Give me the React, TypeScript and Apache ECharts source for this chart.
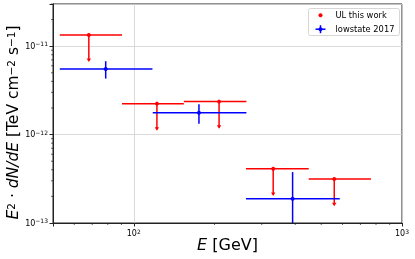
import React, { useEffect, useRef } from "react";
import * as echarts from "echarts";

// Upper limits (this work)
const ulNames = "UL this work";
const ulE = [68, 122, 208, 331, 559];
const ulELow = [53, 90.4, 153.7, 262, 449];
const ulEHigh = [90.4, 153.7, 263, 449, 766];
const ulFlux = [1.34e-11, 2.24e-12, 2.36e-12, 4.11e-13, 3.14e-13];
const ulArrowEnd = [6.7e-12, 1.12e-12, 1.18e-12, 2.05e-13, 1.57e-13];

// lowstate 2017 points
const lsName = "lowstate 2017";
const lsE = [78.6, 175, 391];
const lsELow = [53, 117.7, 262];
const lsEHigh = [117.4, 263, 586];
const lsFlux = [5.53e-12, 1.77e-12, 1.88e-13];
const lsFluxLow = [4.3e-12, 1.33e-12, 1e-15];
const lsFluxHigh = [6.76e-12, 2.2e-12, 3.77e-13];

// axes
const X_MIN = 50;
const X_MAX = 1000;
const Y_MIN = 1e-13;
const Y_MAX = 3e-11;
const xMinorTicks = [60, 70, 80, 90, 200, 300, 400, 500, 600, 700, 800, 900];
const yMinorTicks = [
  2e-13, 3e-13, 4e-13, 5e-13, 6e-13, 7e-13, 8e-13, 9e-13,
  2e-12, 3e-12, 4e-12, 5e-12, 6e-12, 7e-12, 8e-12, 9e-12,
  2e-11, 3e-11,
];

const FONT = "DejaVu Sans";
const RED = "#ff0000";
const BLUE = "#0000ff";

function powLabel(v: number) {
  const l = Math.log10(v);
  const r = Math.round(l);
  if (Math.abs(l - r) > 1e-6) return "";
  return "10{s|" + (r < 0 ? "−" + Math.abs(r) : String(r)) + "}";
}

export default function App() {
  const ref = useRef<HTMLDivElement>(null);
  useEffect(() => {
    if (!ref.current) return;
    const chart = echarts.init(ref.current, undefined, { renderer: "svg" });

    const ulData = ulE.map((e, i) => [e, ulFlux[i], ulELow[i], ulEHigh[i], ulArrowEnd[i]]);
    const lsData = lsE.map((e, i) => [e, lsFlux[i], lsELow[i], lsEHigh[i], lsFluxLow[i], lsFluxHigh[i]]);

    const labelRich = {
      s: { fontSize: 6, fontFamily: FONT, color: "#000", padding: [0, 0, 5, 0] },
    };
    const xNameRich = {
      i: { fontStyle: "italic", fontFamily: FONT, fontSize: 16, color: "#000" },
    };
    const yNameRich = {
      i: { fontStyle: "italic", fontFamily: FONT, fontSize: 15.5, color: "#000" },
      s: { fontFamily: FONT, fontSize: 10.5, color: "#000", padding: [0, 0, 4, 0] },
    };

    chart.setOption({
      animation: false,
      grid: {
        left: 53, top: 4, width: 349, height: 219,
        outerBoundsMode: "none", containLabel: false,
        show: true, borderColor: "#222", borderWidth: 1,
      },
      xAxis: {
        type: "log",
        logBase: 10,
        min: X_MIN,
        max: X_MAX,
        axisLine: { show: true, lineStyle: { color: "#222", width: 1 } },
        axisTick: { show: true, length: 3.5, lineStyle: { color: "#222", width: 1 } },
        splitLine: { show: true, lineStyle: { color: "#d0d0d0", width: 0.8 } },
        axisLabel: {
          formatter: (v: number) => powLabel(v),
          fontFamily: FONT,
          fontSize: 8,
          color: "#000",
          margin: 5,
          rich: labelRich,
          showMinLabel: true,
          showMaxLabel: true,
        },
        name: "{i|E} [GeV]",
        nameLocation: "middle",
        nameGap: 13,
        nameMoveOverlap: false,
        nameTextStyle: {
          fontFamily: FONT,
          fontSize: 16,
          color: "#000",
          verticalAlign: "top",
          rich: xNameRich,
        },
      },
      yAxis: {
        type: "log",
        logBase: 10,
        min: Y_MIN,
        max: Y_MAX,
        axisLine: { show: true, lineStyle: { color: "#222", width: 1 } },
        axisTick: { show: true, length: 3.5, lineStyle: { color: "#222", width: 1 } },
        splitLine: { show: true, lineStyle: { color: "#d0d0d0", width: 0.8 } },
        axisLabel: {
          formatter: (v: number) => powLabel(v),
          fontFamily: FONT,
          fontSize: 8,
          color: "#000",
          margin: 5,
          rich: labelRich,
        },
        name: "{i|E}{s|2} · {i|dN/dE} [TeV cm{s|−2} s{s|−1}]",
        nameLocation: "middle",
        nameGap: 32,
        nameMoveOverlap: false,
        nameTextStyle: {
          fontFamily: FONT,
          fontSize: 15.5,
          color: "#000",
          padding: [0, 18, 0, 0],
          rich: yNameRich,
        },
      },
      series: [
        {
          type: "custom",
          name: "xminor",
          clip: false,
          silent: true,
          data: xMinorTicks.map((v) => [v, Y_MIN]),
          renderItem: (_p: any, api: any) => {
            const p = api.coord([api.value(0), api.value(1)]);
            return {
              type: "line",
              shape: { x1: p[0], y1: p[1], x2: p[0], y2: p[1] + 2 },
              style: { stroke: "#222", lineWidth: 0.7 },
            };
          },
        },
        {
          type: "custom",
          name: "yminor",
          clip: false,
          silent: true,
          data: yMinorTicks.map((v) => [X_MIN, v]),
          renderItem: (_p: any, api: any) => {
            const p = api.coord([api.value(0), api.value(1)]);
            return {
              type: "line",
              shape: { x1: p[0] - 2, y1: p[1], x2: p[0], y2: p[1] },
              style: { stroke: "#222", lineWidth: 0.7 },
            };
          },
        },
        {
          type: "custom",
          name: ulNames,
          clip: true,
          data: ulData,
          renderItem: (_p: any, api: any) => {
            const xc = api.value(0), y = api.value(1);
            const p = api.coord([xc, y]);
            const pl = api.coord([api.value(2), y]);
            const ph = api.coord([api.value(3), y]);
            const pb = api.coord([xc, api.value(4)]);
            return {
              type: "group",
              children: [
                { type: "line", shape: { x1: pl[0], y1: pl[1], x2: ph[0], y2: ph[1] }, style: { stroke: RED, lineWidth: 1.5 } },
                { type: "line", shape: { x1: p[0], y1: p[1], x2: pb[0], y2: pb[1] - 1 }, style: { stroke: RED, lineWidth: 1.5 } },
                {
                  type: "polygon",
                  shape: { points: [[pb[0] - 2.2, pb[1] - 3], [pb[0] + 2.2, pb[1] - 3], [pb[0], pb[1] + 0.5]] },
                  style: { fill: RED },
                },
                { type: "circle", shape: { cx: p[0], cy: p[1], r: 2 }, style: { fill: RED } },
              ],
            };
          },
        },
        {
          type: "custom",
          name: lsName,
          clip: true,
          data: lsData,
          renderItem: (_p: any, api: any) => {
            const xc = api.value(0), y = api.value(1);
            const p = api.coord([xc, y]);
            const pl = api.coord([api.value(2), y]);
            const ph = api.coord([api.value(3), y]);
            const pd = api.coord([xc, api.value(4)]);
            const pu = api.coord([xc, api.value(5)]);
            return {
              type: "group",
              children: [
                { type: "line", shape: { x1: pl[0], y1: pl[1], x2: ph[0], y2: ph[1] }, style: { stroke: BLUE, lineWidth: 1.5 } },
                { type: "line", shape: { x1: pu[0], y1: pu[1], x2: pd[0], y2: pd[1] }, style: { stroke: BLUE, lineWidth: 1.5 } },
                { type: "circle", shape: { cx: p[0], cy: p[1], r: 2 }, style: { fill: BLUE } },
              ],
            };
          },
        },
      ],
      graphic: [
        {
          type: "group",
          left: 308,
          top: 8,
          children: [
            {
              type: "rect",
              shape: { x: 0, y: 0, width: 91, height: 27, r: 2 },
              style: { fill: "rgba(255,255,255,0.8)", stroke: "#d6d6d6", lineWidth: 1 },
            },
            { type: "circle", shape: { cx: 12, cy: 6.7, r: 2 }, style: { fill: RED } },
            {
              type: "text",
              x: 27,
              y: 6.7,
              style: { text: ulNames, fontFamily: FONT, fontSize: 8.3, fill: "#000", verticalAlign: "middle" },
            },
            { type: "line", shape: { x1: 7, y1: 20.7, x2: 17, y2: 20.7 }, style: { stroke: BLUE, lineWidth: 1.5 } },
            { type: "line", shape: { x1: 12, y1: 16.7, x2: 12, y2: 24.7 }, style: { stroke: BLUE, lineWidth: 1.5 } },
            { type: "circle", shape: { cx: 12, cy: 20.7, r: 2 }, style: { fill: BLUE } },
            {
              type: "text",
              x: 27,
              y: 20.7,
              style: { text: lsName, fontFamily: FONT, fontSize: 8.3, fill: "#000", verticalAlign: "middle" },
            },
          ],
        },
      ],
    });
    return () => chart.dispose();
  }, []);
  return <div ref={ref} style={{ position: "fixed", left: 0, top: 0, width: 415, height: 259 }} />;
}
